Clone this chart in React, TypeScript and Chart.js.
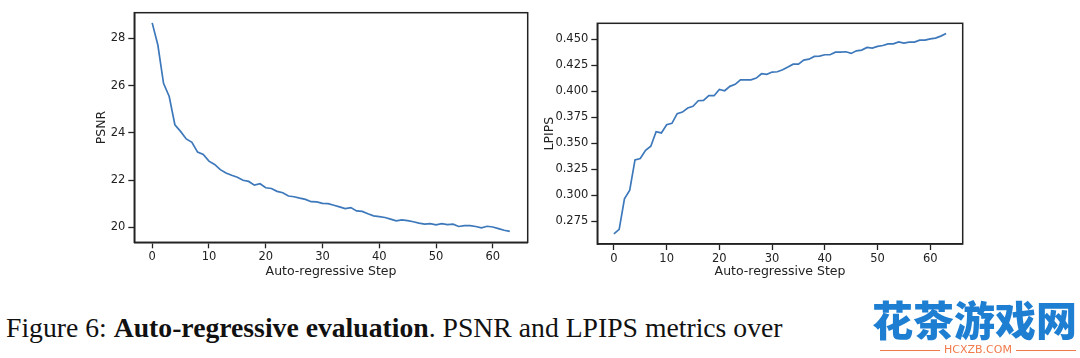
import React, { useEffect, useRef } from "react";
import { Chart, registerables } from "chart.js";

Chart.register(...registerables);

const steps = [
  0, 1, 2, 3, 4, 5, 6, 7, 8, 9, 10, 11, 12, 13, 14, 15, 16, 17, 18, 19, 20, 21,
  22, 23, 24, 25, 26, 27, 28, 29, 30, 31, 32, 33, 34, 35, 36, 37, 38, 39, 40, 41,
  42, 43, 44, 45, 46, 47, 48, 49, 50, 51, 52, 53, 54, 55, 56, 57, 58, 59, 60, 61,
  62, 63,
];

const psnr = [
  28.66, 27.72, 26.1, 25.54, 24.34, 24.06, 23.74, 23.6, 23.18, 23.08, 22.8,
  22.66, 22.44, 22.3, 22.2, 22.12, 21.99, 21.94, 21.78, 21.84, 21.67, 21.64,
  21.52, 21.46, 21.32, 21.29, 21.23, 21.18, 21.08, 21.07, 21.01, 21.0, 20.93,
  20.86, 20.79, 20.83, 20.69, 20.67, 20.57, 20.48, 20.45, 20.41, 20.34, 20.27,
  20.31, 20.28, 20.23, 20.17, 20.13, 20.15, 20.1, 20.15, 20.11, 20.13, 20.03,
  20.07, 20.07, 20.03, 19.97, 20.04, 20.01, 19.94, 19.87, 19.82,
];

const lpips = [
  0.2632, 0.2674, 0.2967, 0.305, 0.3341, 0.3354, 0.3434, 0.3472, 0.3612, 0.36,
  0.3679, 0.3692, 0.3785, 0.38, 0.3839, 0.3855, 0.3909, 0.3912, 0.3957, 0.3957,
  0.4018, 0.4005, 0.4047, 0.4066, 0.411, 0.411, 0.411, 0.4126, 0.4168, 0.4162,
  0.4184, 0.4187, 0.4206, 0.4232, 0.426, 0.426, 0.4299, 0.4308, 0.4334, 0.4337,
  0.435, 0.435, 0.4375, 0.4375, 0.4379, 0.4363, 0.4388, 0.4395, 0.442, 0.4414,
  0.443, 0.4439, 0.4455, 0.4455, 0.4474, 0.4462, 0.4471, 0.4471, 0.449, 0.449,
  0.4503, 0.451, 0.4529, 0.4554,
];

const xTicks = [0, 10, 20, 30, 40, 50, 60];
const psnrTicks = [20, 22, 24, 26, 28];
const lpipsTicks = [0.275, 0.3, 0.325, 0.35, 0.375, 0.4, 0.425, 0.45];

const xTitle = "Auto-regressive Step";
const psnrTitle = "PSNR";
const lpipsTitle = "LPIPS";

const LINE_COLOR = "#3d78bb";
const INK = "#222222";
const FONT = "'DejaVu Sans', sans-serif";
const TICK_SIZE = 11.5;
const TITLE_SIZE = 12.5;

const framePlugin = {
  id: "frame",
  afterDraw(chart: any) {
    const { ctx, chartArea } = chart;
    const { left, top, right, bottom } = chartArea;
    ctx.save();
    ctx.strokeStyle = INK;
    ctx.lineWidth = 1.5;
    ctx.strokeRect(left, top, right - left, bottom - top);
    ctx.restore();
  },
};

type PanelProps = {
  values: number[];
  yTicks: number[];
  yMin: number;
  yMax: number;
  yTitle: string;
  yDecimals: number;
  yAxisWidth: number;
  xAxisHeight: number;
  padding: { left: number; right: number; top: number; bottom: number };
  left: number;
};

function Panel(p: PanelProps) {
  const ref = useRef<HTMLCanvasElement | null>(null);
  useEffect(() => {
    if (!ref.current) return;
    const chart = new Chart(ref.current, {
      type: "line",
      data: {
        datasets: [
          {
            data: p.values.map((v, i) => ({ x: steps[i], y: v })),
            borderColor: LINE_COLOR,
            borderWidth: 1.7,
            pointRadius: 0,
            tension: 0,
            fill: false,
          },
        ],
      },
      options: {
        animation: false,
        responsive: false,
        maintainAspectRatio: false,
        layout: { padding: p.padding },
        plugins: { legend: { display: false }, tooltip: { enabled: false } },
        scales: {
          x: {
            type: "linear",
            min: -3.15,
            max: 66.15,
            afterBuildTicks: (s: any) => {
              s.ticks = xTicks.map((v) => ({ value: v }));
            },
            afterFit: (s: any) => {
              s.height = p.xAxisHeight;
            },
            ticks: {
              color: INK,
              font: { family: FONT, size: TICK_SIZE },
              padding: 2,
              maxRotation: 0,
              autoSkip: false,
              callback: (v: any) => String(v),
            },
            grid: {
              drawOnChartArea: false,
              drawTicks: true,
              tickLength: 6,
              tickWidth: 1.3,
              tickColor: INK,
            },
            border: { display: true, color: INK, width: 1.5 },
            title: {
              display: true,
              text: xTitle,
              color: INK,
              font: { family: FONT, size: TITLE_SIZE },
              padding: 0,
            },
          },
          y: {
            type: "linear",
            min: p.yMin,
            max: p.yMax,
            afterBuildTicks: (s: any) => {
              s.ticks = p.yTicks.map((v) => ({ value: v }));
            },
            afterFit: (s: any) => {
              s.width = p.yAxisWidth;
            },
            ticks: {
              color: INK,
              font: { family: FONT, size: TICK_SIZE },
              padding: 3,
              autoSkip: false,
              callback: (v: any) => Number(v).toFixed(p.yDecimals),
            },
            grid: {
              drawOnChartArea: false,
              drawTicks: true,
              tickLength: 6,
              tickWidth: 1.3,
              tickColor: INK,
            },
            border: { display: true, color: INK, width: 1.5 },
            title: {
              display: true,
              text: p.yTitle,
              color: INK,
              font: { family: FONT, size: TITLE_SIZE },
              padding: 0,
            },
          },
        },
      },
      plugins: [framePlugin],
    } as any);
    return () => chart.destroy();
  }, []);
  return (
    <canvas
      ref={ref}
      width={540}
      height={290}
      style={{ position: "absolute", left: p.left, top: 0, width: 540, height: 290 }}
    />
  );
}

export default function App() {
  return (
    <div
      style={{
        position: "fixed",
        left: 0,
        top: 0,
        width: 1080,
        height: 358,
        background: "#fff",
        overflow: "hidden",
      }}
    >
      <Panel
        values={psnr}
        yTicks={psnrTicks}
        yMin={19.36}
        yMax={29.09}
        yTitle={psnrTitle}
        yDecimals={0}
        yAxisWidth={40.1}
        xAxisHeight={37.2}
        padding={{ left: 94.2, right: 12.3, top: 12.7, bottom: 10.5 }}
        left={0}
      />
      <Panel
        values={lpips}
        yTicks={lpipsTicks}
        yMin={0.2534}
        yMax={0.4652}
        yTitle={lpipsTitle}
        yDecimals={3}
        yAxisWidth={54.8}
        xAxisHeight={35.2}
        padding={{ left: 2.5, right: 117.3, top: 23.3, bottom: 10.8 }}
        left={540}
      />
      <div
        style={{
          position: "absolute",
          left: 6,
          top: 312,
          fontFamily: "'Liberation Serif', serif",
          fontSize: 27.7,
          color: "#111",
          whiteSpace: "nowrap",
          lineHeight: "32px",
        }}
      >
        Figure 6: <b>Auto-regressive evaluation</b>. PSNR and LPIPS metrics over
      </div>
      <div
        style={{
          position: "absolute",
          left: 872,
          top: 292,
          fontFamily: "'Noto Sans CJK SC', sans-serif",
          fontWeight: 900,
          fontSize: 41,
          color: "#1e7fd2",
          whiteSpace: "nowrap",
          lineHeight: "52px",
        }}
      >
        花茶游戏网
      </div>
      <div
        style={{
          position: "absolute",
          left: 880,
          top: 343,
          width: 196,
          display: "flex",
          alignItems: "center",
          gap: 4,
          fontFamily: "'DejaVu Sans', sans-serif",
          fontSize: 11,
          color: "#f07a4a",
          lineHeight: "14px",
        }}
      >
        <div style={{ flex: 1, height: 1, background: "#f07a4a" }} />
        <span>HCXZB.COM</span>
        <div style={{ flex: 1, height: 1, background: "#f07a4a" }} />
      </div>
    </div>
  );
}
